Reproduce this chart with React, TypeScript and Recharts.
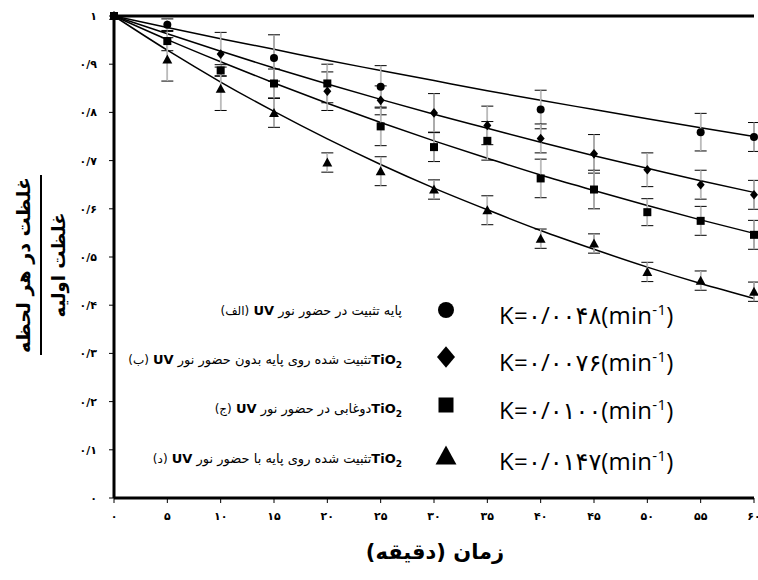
import React from 'react';
import {
  ComposedChart,
  Line,
  Scatter,
  XAxis,
  YAxis,
  ErrorBar,
  ReferenceLine,
} from 'recharts';

// ---------- data ----------
const fitTimes = [0, 5, 10, 15, 20, 25, 30, 35, 40, 45, 50, 55, 60];
const fitA = [1, 0.976, 0.953, 0.931, 0.908, 0.887, 0.866, 0.845, 0.825, 0.806, 0.787, 0.768, 0.75];
const fitB = [1, 0.963, 0.927, 0.892, 0.859, 0.827, 0.796, 0.767, 0.738, 0.71, 0.684, 0.658, 0.634];
const fitC = [1, 0.951, 0.905, 0.861, 0.819, 0.779, 0.741, 0.705, 0.67, 0.638, 0.607, 0.577, 0.549];
const fitD = [1, 0.929, 0.863, 0.802, 0.745, 0.692, 0.643, 0.598, 0.555, 0.516, 0.479, 0.445, 0.414];

const timesA = [0, 5, 15, 25, 40, 55, 60];
const valuesA = [1, 0.982, 0.913, 0.853, 0.806, 0.759, 0.749];
const errA = [0, 0.012, 0.048, 0.044, 0.04, 0.039, 0.03];

const timesB = [0, 10, 20, 25, 30, 35, 40, 45, 50, 55, 60];
const valuesB = [1, 0.921, 0.844, 0.825, 0.799, 0.773, 0.746, 0.714, 0.681, 0.65, 0.629];
const errB = [0, 0.045, 0.04, 0.03, 0.04, 0.04, 0.03, 0.04, 0.035, 0.03, 0.03];

const timesC = [0, 5, 10, 15, 20, 25, 30, 35, 40, 45, 50, 55, 60];
const valuesC = [1, 0.948, 0.887, 0.86, 0.86, 0.771, 0.728, 0.741, 0.663, 0.64, 0.593, 0.575, 0.546];
const errC = [0, 0.02, 0.012, 0.03, 0.04, 0.04, 0.03, 0.04, 0.04, 0.04, 0.028, 0.03, 0.03];

const timesD = [0, 5, 10, 15, 20, 25, 30, 35, 40, 45, 50, 55, 60];
const valuesD = [1, 0.91, 0.849, 0.799, 0.696, 0.678, 0.64, 0.597, 0.538, 0.528, 0.469, 0.451, 0.428];
const errD = [0, 0.045, 0.045, 0.03, 0.02, 0.03, 0.02, 0.03, 0.02, 0.02, 0.02, 0.02, 0.02];

const xTicks = [0, 5, 10, 15, 20, 25, 30, 35, 40, 45, 50, 55, 60];
const xTickLabels = ['۰', '۵', '۱۰', '۱۵', '۲۰', '۲۵', '۳۰', '۳۵', '۴۰', '۴۵', '۵۰', '۵۵', '۶۰'];
const yTicks = [0, 0.1, 0.2, 0.3, 0.4, 0.5, 0.6, 0.7, 0.8, 0.9, 1];
const yTickLabels = ['۰', '۰/۱', '۰/۲', '۰/۳', '۰/۴', '۰/۵', '۰/۶', '۰/۷', '۰/۸', '۰/۹', '۱'];

const legendLabels = [
  'پایه تثبیت در حضور نور',
  'تثبیت شده روی پایه بدون حضور نور',
  'دوغابی در حضور نور',
  'تثبیت شده روی پایه با حضور نور',
];
const legendTags = ['(الف)', '(ب)', '(ج)', '(د)'];
const legendHasTiO2 = [false, true, true, true];
const kLabels = ['۰/۰۰۴۸', '۰/۰۰۷۶', '۰/۰۱۰۰', '۰/۰۱۴۷'];

const yTitleTop = 'غلظت در هر لحظه';
const yTitleBottom = 'غلظت اولیه';
const xTitle = 'زمان (دقیقه)';

// ---------- tables ----------
const fitData = fitTimes.map((t, i) => ({ t, a: fitA[i], b: fitB[i], c: fitC[i], d: fitD[i] }));
const mk = (ts: number[], vs: number[], es: number[]) => ts.map((t, i) => ({ t, v: vs[i], e: es[i] }));
const dataA = mk(timesA, valuesA, errA);
const dataB = mk(timesB, valuesB, errB);
const dataC = mk(timesC, valuesC, errC);
const dataD = mk(timesD, valuesD, errD);

const FA = "'DejaVu Sans', sans-serif";

type Kind = 'circle' | 'diamond' | 'square' | 'triangle';
const Marker = ({ kind, cx, cy, s }: { kind: Kind; cx: number; cy: number; s: number }) => {
  if (kind === 'circle') return <circle cx={cx} cy={cy} r={s / 2} fill="#000" />;
  if (kind === 'square') return <rect x={cx - s / 2} y={cy - s / 2} width={s} height={s} fill="#000" />;
  if (kind === 'diamond')
    return (
      <polygon
        points={`${cx},${cy - s * 0.6} ${cx + s * 0.5},${cy} ${cx},${cy + s * 0.6} ${cx - s * 0.5},${cy}`}
        fill="#000"
      />
    );
  return (
    <polygon
      points={`${cx},${cy - s * 0.55} ${cx + s * 0.55},${cy + s * 0.45} ${cx - s * 0.55},${cy + s * 0.45}`}
      fill="#000"
    />
  );
};

const shapeOf = (kind: Kind, s: number) => (p: any) =>
  p.cx == null ? <g /> : <Marker kind={kind} cx={p.cx} cy={p.cy} s={s} />;

const legendKinds: Kind[] = ['circle', 'diamond', 'square', 'triangle'];
const legendRowY = [310, 357, 405, 456];
const legendTextY = [311, 360, 409, 459];

export default function App() {
  return (
    <div style={{ position: 'absolute', left: 0, top: 0, width: 758, height: 580, background: '#fff' }}>
      <ComposedChart
        width={758}
        height={580}
        data={fitData}
        margin={{ top: 16, right: 4, bottom: 52, left: 0 }}
      >
        <XAxis
          dataKey="t"
          type="number"
          domain={[0, 60]}
          ticks={xTicks}
          interval={0}
          height={30}
          axisLine={{ stroke: '#000', strokeWidth: 3 }}
          tickLine={{ stroke: '#000', strokeWidth: 1 }}
          tickSize={5}
          tickMargin={9}
          tick={{ fill: '#000', fontSize: 11, fontWeight: 'bold', fontFamily: FA }}
          tickFormatter={(v: number) => xTickLabels[xTicks.indexOf(v)]}
        />
        <YAxis
          type="number"
          domain={[0, 1]}
          ticks={yTicks}
          interval={0}
          width={114}
          axisLine={{ stroke: '#000', strokeWidth: 3 }}
          tickLine={{ stroke: '#000', strokeWidth: 1 }}
          tickSize={5}
          tickMargin={12}
          tick={{ fill: '#000', fontSize: 11, fontWeight: 'bold', fontFamily: FA }}
          tickFormatter={(v: number) => yTickLabels[Math.round(v * 10)]}
        />
        <ReferenceLine y={1} stroke="#000" strokeWidth={3} ifOverflow="visible" />
        <Line dataKey="a" type="monotone" stroke="#000" strokeWidth={1.5} dot={false} isAnimationActive={false} />
        <Line dataKey="b" type="monotone" stroke="#000" strokeWidth={1.5} dot={false} isAnimationActive={false} />
        <Line dataKey="c" type="monotone" stroke="#000" strokeWidth={1.5} dot={false} isAnimationActive={false} />
        <Line dataKey="d" type="monotone" stroke="#000" strokeWidth={1.5} dot={false} isAnimationActive={false} />
        <Scatter data={dataA} dataKey="v" shape={shapeOf('circle', 8)} isAnimationActive={false}>
          <ErrorBar dataKey="e" direction="y" width={6} stroke="#000" strokeWidth={1} />
          <ErrorBar dataKey="e" direction="y" width={0} stroke="#bbbbbb" strokeWidth={1.5} />
        </Scatter>
        <Scatter data={dataB} dataKey="v" shape={shapeOf('diamond', 8)} isAnimationActive={false}>
          <ErrorBar dataKey="e" direction="y" width={6} stroke="#000" strokeWidth={1} />
          <ErrorBar dataKey="e" direction="y" width={0} stroke="#bbbbbb" strokeWidth={1.5} />
        </Scatter>
        <Scatter data={dataC} dataKey="v" shape={shapeOf('square', 8)} isAnimationActive={false}>
          <ErrorBar dataKey="e" direction="y" width={6} stroke="#000" strokeWidth={1} />
          <ErrorBar dataKey="e" direction="y" width={0} stroke="#bbbbbb" strokeWidth={1.5} />
        </Scatter>
        <Scatter data={dataD} dataKey="v" shape={shapeOf('triangle', 9)} isAnimationActive={false}>
          <ErrorBar dataKey="e" direction="y" width={6} stroke="#000" strokeWidth={1} />
          <ErrorBar dataKey="e" direction="y" width={0} stroke="#bbbbbb" strokeWidth={1.5} />
        </Scatter>
      </ComposedChart>

      {/* legend */}
      {legendKinds.map((k, i) => (
        <React.Fragment key={k}>
          <div
            dir="rtl"
            style={{
              position: 'absolute',
              right: 758 - 402,
              top: legendTextY[i] - 10,
              fontFamily: FA,
              fontSize: 13,
              whiteSpace: 'nowrap',
              color: '#000',
              lineHeight: '20px',
            }}
          >
            {legendHasTiO2[i] ? (
              <b dir="ltr" style={{ unicodeBidi: 'isolate' }}>
                TiO<sub style={{ fontSize: 9 }}>2</sub>
              </b>
            ) : null}
            {legendLabels[i]} <b>UV</b> <span style={{ fontSize: 12 }}>{legendTags[i]}</span>
          </div>
          <svg
            style={{ position: 'absolute', left: 435, top: legendRowY[i] - 11, overflow: 'visible' }}
            width={22}
            height={22}
          >
            <Marker kind={k} cx={11} cy={11} s={k === 'circle' ? 16 : k === 'square' ? 15 : k === 'diamond' ? 18 : 19} />
          </svg>
          <div
            dir="ltr"
            style={{
              position: 'absolute',
              left: 499,
              top: legendRowY[i] - 16,
              fontFamily: "'Open Sans', 'DejaVu Sans', sans-serif",
              fontSize: 24,
              lineHeight: '30px',
              whiteSpace: 'nowrap',
              color: '#000',
              letterSpacing: 0.3,
            }}
          >
            K={kLabels[i]}(min<sup style={{ fontSize: 15 }}>-1</sup>)
          </div>
        </React.Fragment>
      ))}

      {/* y title */}
      <div
        dir="rtl"
        style={{
          position: 'absolute',
          left: 44 - 100,
          top: 265 - 34,
          width: 200,
          height: 68,
          transform: 'rotate(-90deg)',
          fontFamily: FA,
          fontWeight: 'bold',
          color: '#000',
          textAlign: 'center',
          display: 'flex',
          flexDirection: 'column',
          alignItems: 'center',
        }}
      >
        <div style={{ fontSize: 19, lineHeight: '26px', borderBottom: '2px solid #000', padding: '0 2px 4px' }}>
          {yTitleTop}
        </div>
        <div style={{ fontSize: 18, lineHeight: '26px', paddingTop: 4 }}>{yTitleBottom}</div>
      </div>

      {/* x title */}
      <div
        dir="rtl"
        style={{
          position: 'absolute',
          left: 335,
          width: 200,
          top: 540,
          textAlign: 'center',
          fontFamily: FA,
          fontWeight: 'bold',
          fontSize: 21,
          color: '#000',
        }}
      >
        {xTitle}
      </div>
    </div>
  );
}
